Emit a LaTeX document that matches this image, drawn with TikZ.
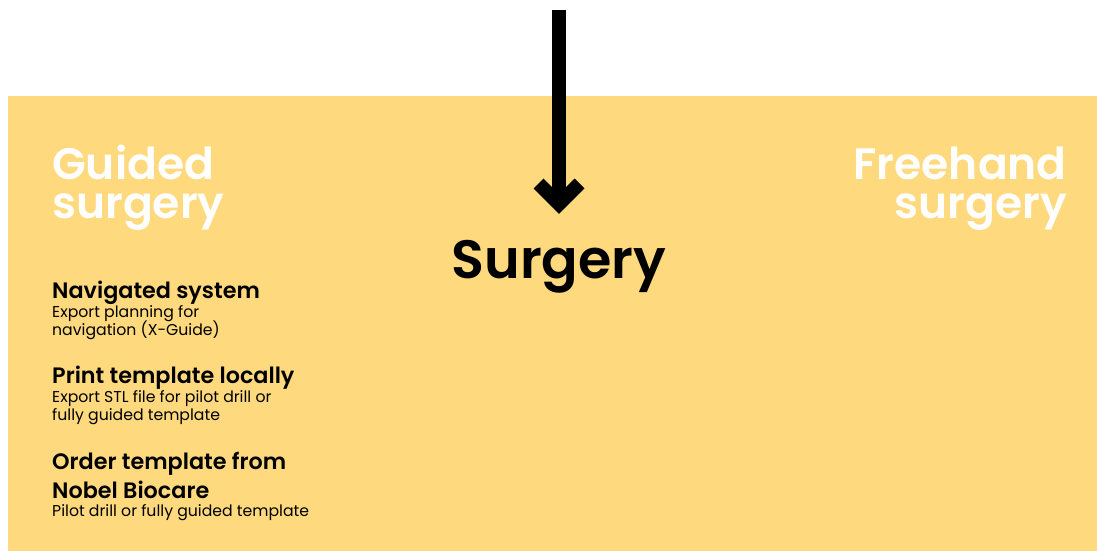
\documentclass[tikz,border=0pt]{standalone}
\usepackage{fontspec}
\setmainfont{Poppins}[BoldFont={* SemiBold}]
\definecolor{panel}{RGB}{254,217,126}
\tikzset{
  txt/.style={inner sep=0pt, anchor=base west, text depth=0pt},
  bighead/.style={txt, text=white, align=left, font=\fontsize{44}{39}\selectfont\bfseries},
  headr/.style={bighead, anchor=base east, align=right},
  itemhead/.style={txt, font=\fontsize{22.3}{22.3}\selectfont\bfseries},
  itemtxt/.style={txt, font=\fontsize{15.7}{15.7}\selectfont},
  arrowline/.style={line width=14pt, black},
}
\begin{document}
\begin{tikzpicture}[x=1pt,y=-1pt]
\useasboundingbox (0,0) rectangle (1097,551);
\fill[panel] (8,96) rectangle (1097,551);
% arrow
\coordinate (top) at (559,10);
\coordinate (tip) at (559,204);
\coordinate (al) at (538.5,183.5);
\coordinate (ar) at (579.5,183.5);
\draw[arrowline] (top) -- (559,200);
\draw[arrowline, line join=miter] (al) -- (tip) -- (ar);
% headings (base anchor = baseline of last line)
\node[bighead] (g) at (52,218) {Guided\\surgery};
\node[headr] (f) at (1067,218) {Freehand\\surgery};
\node[inner sep=0pt, anchor=base, font=\fontsize{54}{54}\selectfont\bfseries] (s) at (559,278) {Surgery};
% items
\node[itemhead] (n1) at (52,298) {Navigated system};
\node[itemtxt] (n2) at (52,317) {Export planning for};
\node[itemtxt] (n3) at (52,335) {navigation (X-Guide)};
\node[itemhead] (p1) at (52,383) {Print template locally};
\node[itemtxt] (p2) at (52,402) {Export STL file for pilot drill or};
\node[itemtxt] (p3) at (52,420) {fully guided template};
\node[itemhead] (o1) at (52,469) {Order template from};
\node[itemhead] (o2) at (52,498) {Nobel Biocare};
\node[itemtxt] (o3) at (52,516) {Pilot drill or fully guided template};
\end{tikzpicture}
\end{document}
